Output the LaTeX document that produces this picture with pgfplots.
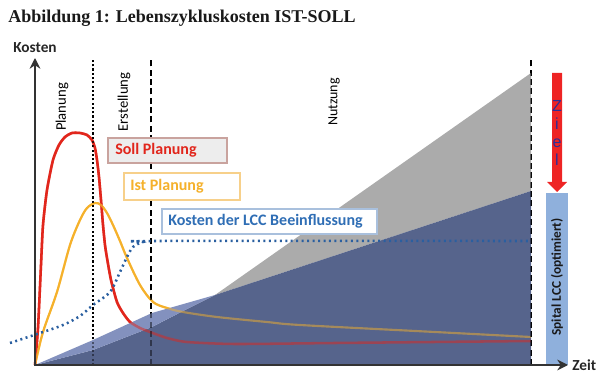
\documentclass[border=0pt]{standalone}
\usepackage{pgfplots}
\pgfplotsset{compat=1.18}
\usetikzlibrary{arrows.meta}
\usepackage{fontspec}
\setmainfont{Carlito}
\newfontfamily\titlefont{Liberation Serif}
\newfontfamily\arialfont{Liberation Sans}
\definecolor{cRed}{HTML}{E1261C}
\definecolor{cOrange}{HTML}{F5B12B}
\definecolor{cBlueDot}{HTML}{2A5FA0}
\definecolor{cDark}{HTML}{56648C}
\definecolor{cLight}{HTML}{8391BE}
\definecolor{cGray}{HTML}{ABABAB}
\definecolor{cAxis}{HTML}{333333}
\definecolor{cBar}{HTML}{8FB0DC}
\definecolor{cArrow}{HTML}{EE2424}
\definecolor{cZiel}{HTML}{2E2E96}
\definecolor{cSollBd}{HTML}{C9A39E}
\definecolor{cSollFill}{HTML}{EDEDED}
\definecolor{cIstBd}{HTML}{F7D08A}
\definecolor{cLccBd}{HTML}{A9C0DD}
\definecolor{cLccTxt}{HTML}{2F6EB5}
\pgfplotstableread{
x y
0 0
3 37
6 100
8 140
12 175
18 205
24 220
30 228
37 232
45 232
52 230
57 225
60 217
62 205
64 188
66 165
68 140
70 120
72 107
76 85
82 63
88 52
95 43
105 37
115 33
132 27
152 23
200 21
300 22
496 24
}\soll
\pgfplotstableread{
x y
0 0
8 33
22 73
35 120
45 145
52 157
60 162
66 160
72 152
78 140
85 124
92 107
105 80
118 63
132 57
148 53
182 48
232 43
265 40
400 33
496 28
}\ist
\pgfplotstableread{
x y
-25 22
5 32
28 40
45 49
58 60
75 73
85 93
92 108
98 118
108 123
122 124
496 124
}\lcc
\begin{document}
\begin{tikzpicture}
\begin{axis}[
  scale only axis, width=450pt, height=281.25pt,
  xmin=-35, xmax=565, ymin=-10, ymax=365,
  hide axis, clip=false,
]
% --- curves and phase lines (under the areas)
\addplot[cRed, line width=1.9pt, smooth, tension=0.4] table {\soll};
\addplot[cOrange, line width=1.6pt, smooth, tension=0.5] table {\ist};
\addplot[black, line width=1.9pt, dash pattern=on 1.6pt off 1.6pt] coordinates {(58,0)(58,305)};
\addplot[black, line width=1.9pt, dash pattern=on 4.5pt off 2.5pt] coordinates {(116,0)(116,305)};
\addplot[black, line width=1.9pt, dash pattern=on 4.5pt off 2.5pt] coordinates {(496,0)(496,308)};
% --- areas
\addplot[fill=cGray, draw=none] coordinates {(180,70)(496,292)(496,174)} -- cycle;
\addplot[fill=cDark, draw=none] coordinates {(0,0)(58,15)(117,38)(150,55)(180,70)(496,174)(496,0)} -- cycle;
\addplot[fill=cLight, draw=none] coordinates {(0,0)(58,25)(117,52)(180,70)(150,55)(117,38)(58,15)} -- cycle;
% --- curves again, translucent over the areas
\addplot[cRed, opacity=0.5, line width=1.9pt, smooth, tension=0.4] table {\soll};
\addplot[cOrange, opacity=0.5, line width=1.6pt, smooth, tension=0.5] table {\ist};
\addplot[black, opacity=0.45, line width=1.9pt, dash pattern=on 1.6pt off 1.6pt] coordinates {(58,0)(58,305)};
\addplot[black, opacity=0.45, line width=1.9pt, dash pattern=on 4.5pt off 2.5pt] coordinates {(116,0)(116,305)};
\addplot[black, opacity=0.45, line width=1.9pt, dash pattern=on 4.5pt off 2.5pt] coordinates {(496,0)(496,308)};
% --- LCC influence curve (dotted, on top)
\addplot[cBlueDot, line width=1.9pt, dash pattern=on 1.5pt off 2.6pt, smooth, tension=0.5] table {\lcc};
% --- right side: target arrow and optimised bar
\addplot[fill=cArrow, draw=none] coordinates {(517,292)(527,292)(527,183)(532,183)(522,173)(512,183)(517,183)} -- cycle;
\addplot[fill=cBar, draw=none] coordinates {(511,0)(533,0)(533,172)(511,172)} -- cycle;
% --- axes
\draw[cAxis, line width=2.2pt, -{Stealth[length=8pt,width=8pt]}] (axis cs:0,-1) -- (axis cs:0,307);
\draw[cAxis, line width=2.2pt, -{Stealth[length=8pt,width=8pt]}] (axis cs:-1,0) -- (axis cs:533,0);
% --- texts
\node[anchor=base west, inner sep=0, text=black!90, font=\titlefont\bfseries\fontsize{13.5}{16}\selectfont] at (axis cs:-27,342) {Abbildung 1: Lebenszykluskosten IST-SOLL};
\node[inner sep=0, text=black!85, font=\bfseries\fontsize{11.5}{13}\selectfont] at (axis cs:0,317) {Kosten};
\node[anchor=west, inner sep=0, text=black!85, font=\bfseries\fontsize{11.5}{13}\selectfont] at (axis cs:537,0) {Zeit};
\node[rotate=90, inner sep=0, font=\fontsize{11}{12}\selectfont] at (axis cs:27,258) {Planung};
\node[rotate=90, inner sep=0, font=\fontsize{11}{12}\selectfont] at (axis cs:89,263) {Erstellung};
\node[rotate=90, inner sep=0, font=\fontsize{10.5}{12}\selectfont] at (axis cs:299,263) {Nutzung};
% legend-like boxes
\draw[draw=cSollBd, fill=cSollFill, line width=0.8pt] (axis cs:73,202) rectangle (axis cs:192,227);
\node[anchor=west, inner sep=0, text=cRed, font=\bfseries\fontsize{12}{14}\selectfont] at (axis cs:80,214.5) {Soll Planung};
\draw[draw=cIstBd, fill=white, line width=0.8pt] (axis cs:89,165) rectangle (axis cs:205,192);
\node[anchor=west, inner sep=0, text=cOrange, font=\bfseries\fontsize{12}{14}\selectfont] at (axis cs:95,178.5) {Ist Planung};
\draw[draw=cLccBd, fill=white, line width=0.8pt] (axis cs:127,131) rectangle (axis cs:342,156);
\node[anchor=west, inner sep=0, text=cLccTxt, font=\bfseries\fontsize{12}{14}\selectfont] at (axis cs:133,143.5) {Kosten der LCC Beeinflussung};
% Ziel letters, stacked
\node[inner sep=0, align=center, text=cZiel, font=\arialfont\fontsize{12}{13.5}\selectfont] at (axis cs:522,232) {Z\\i\\e\\l};
\node[rotate=90, inner sep=0, text=black!90, font=\bfseries\fontsize{10}{12}\selectfont] at (axis cs:522,88) {Spital LCC (optimiert)};
\end{axis}
\pgfresetboundingbox
\path (0,0) rectangle (450pt,281.25pt);
\end{tikzpicture}
\end{document}
